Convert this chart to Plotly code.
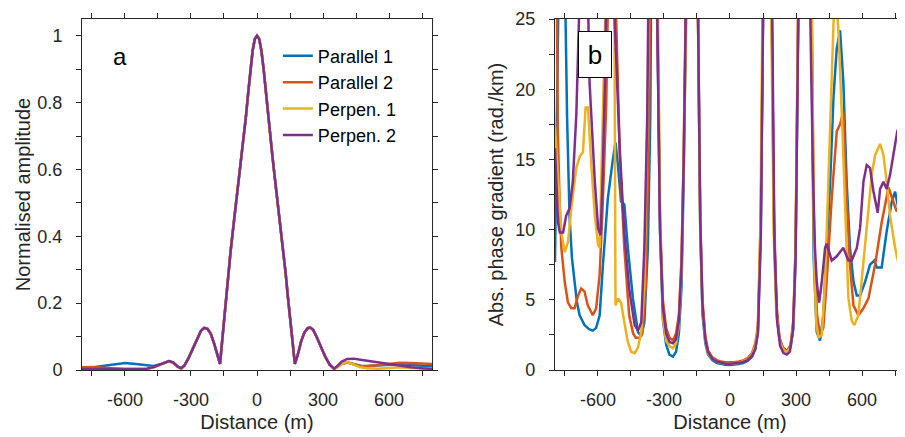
import plotly.graph_objects as go
from plotly.subplots import make_subplots

# ---- panel a: normalised amplitude ----
amp_dist = [-795, -750, -700, -650, -600, -550, -500, -470, -440, -420, -400, -380, -360, -345,
            -330, -310, -290, -270, -255, -240, -225, -210, -195, -180, -168,
            -160, -150, -140, -130, -120, -110, -100, -90, -80, -70, -60, -50, -40, -30, -20, -10,
            0, 10, 20, 30, 40, 50, 60, 70, 80, 90, 100, 110, 120, 130, 140, 150, 160,
            172, 185, 200, 215, 230, 242, 255, 270, 290, 310, 330, 350,
            365, 385, 410, 440, 470, 500, 550, 600, 650, 700, 750, 795]

amp_core = [0.013, 0.037, 0.067, 0.098, 0.117, 0.126, 0.123, 0.108, 0.08, 0.045, 0.018,
            0.075, 0.15, 0.22, 0.29, 0.355, 0.415, 0.47, 0.525, 0.58, 0.64, 0.70, 0.76, 0.83, 0.9, 0.955, 0.99,
            1.0, 0.99, 0.955, 0.9, 0.83, 0.76, 0.70, 0.64, 0.58, 0.525, 0.47, 0.415, 0.355, 0.29, 0.22, 0.155, 0.09,
            0.018, 0.045, 0.085, 0.112, 0.125, 0.127, 0.12, 0.1, 0.07, 0.04, 0.016, 0.004]

par1_left = [0.004, 0.008, 0.013, 0.018, 0.021, 0.018, 0.013, 0.012, 0.017, 0.022, 0.027, 0.022, 0.01, 0.005]
par2_left = [0.008, 0.009, 0.007, 0.004, 0.003, 0.003, 0.004, 0.008, 0.016, 0.022, 0.027, 0.022, 0.01, 0.005]
perp1_left = [0.002, 0.002, 0.002, 0.002, 0.002, 0.002, 0.003, 0.008, 0.016, 0.022, 0.026, 0.02, 0.008, 0.002]
perp2_left = [0.003, 0.003, 0.003, 0.003, 0.003, 0.003, 0.004, 0.009, 0.017, 0.023, 0.027, 0.022, 0.01, 0.005]

par1_right = [0.009, 0.018, 0.022, 0.018, 0.013, 0.012, 0.014, 0.017, 0.017, 0.015, 0.013, 0.011]
par2_right = [0.009, 0.018, 0.023, 0.018, 0.012, 0.011, 0.014, 0.019, 0.022, 0.021, 0.019, 0.018]
perp1_right = [0.008, 0.018, 0.024, 0.016, 0.008, 0.005, 0.004, 0.006, 0.008, 0.006, 0.004, 0.003]
perp2_right = [0.012, 0.025, 0.033, 0.034, 0.031, 0.028, 0.023, 0.018, 0.012, 0.008, 0.005, 0.003]

# ---- panel b: abs. phase gradient (rad./km) ----
par1_x = [-795, -788, -778, -762, -750, -740, -729, -718, -706, -695, -683, -661, -640, -623, -608, -592, -577,
          -555, -532, -520, -509, -495, -480, -464, -441, -418, -403, -389, -373, -362, -345, -330, -318, -305,
          -290, -275, -259, -245, -232, -220, -210, -200, -170, -145, -135, -125, -112, -100, -80, -60, -40, -20,
          0, 20, 40, 60, 80, 100, 115, 127, 140, 150, 165, 190, 200, 212, 225, 240, 258, 275, 288, 298, 310, 340,
          370, 380, 394, 409, 424, 439, 455, 470, 485, 500, 515, 530, 545, 561, 576, 591, 614, 636, 656, 667, 689,
          712, 735, 750, 765, 780, 795]
par1_y = [7.7, 16, 28, 40, 28, 18, 11, 8, 6.3, 4.8, 3.9, 3.2, 2.9, 2.8, 3.0, 3.9, 7.5,
          12.2, 15, 16.2, 14.6, 12, 11.8, 8.7, 5.1, 2.7, 2.4, 3.4, 8.7, 18, 60, 25, 10, 3.6,
          1.8, 1.1, 0.95, 1.3, 2.6, 6, 14, 25, 60, 25, 10, 4, 1.9, 1.1, 0.7, 0.5, 0.42, 0.38,
          0.36, 0.38, 0.42, 0.5, 0.65, 0.95, 1.5, 2.8, 10, 25, 60, 25, 10, 4, 2.2, 1.6, 1.35, 1.6, 3, 8, 25, 60,
          25, 8, 2.7, 2.1, 3.9, 8.7, 13.4, 19.4, 22.9, 24.2, 20.5, 13.4, 8.7, 6.3, 5.3, 5.3, 6.3, 7.5, 7.8, 7.3, 7.3,
          9.9, 12, 12.7, 11.5, 10.8, 10.8]

par2_x = [-795, -786, -782, -774, -766, -751, -736, -721, -706, -690, -676, -661, -646, -623, -608, -592, -577,
          -562, -550, -535, -517, -500, -480, -458, -440, -428, -410, -398, -383, -367, -350, -330, -318, -305,
          -290, -275, -259, -245, -232, -220, -210, -200, -170, -145, -135, -125, -112, -100, -80, -60, -40, -20,
          0, 20, 40, 60, 80, 100, 115, 127, 140, 150, 165, 190, 200, 212, 225, 240, 258, 275, 288, 298, 310, 340,
          372, 382, 395, 409, 424, 439, 462, 485, 500, 515, 530, 545, 561, 583, 606, 629, 659, 689, 720, 742, 757,
          772, 787, 795]
par2_y = [45, 25, 17, 12, 8.7, 6.3, 4.8, 4.4, 4.4, 5.3, 5.8, 5.6, 4.6, 3.9, 4.4, 6.8, 12.2,
          19, 30, 45, 25, 15, 8.7, 3.9, 2.6, 2.3, 2.3, 2.6, 5.9, 18, 60, 25, 11, 5,
          3, 2.3, 2.1, 2.6, 4, 8, 16, 25, 60, 25, 11, 5, 2.4, 1.4, 0.9, 0.7, 0.6, 0.56,
          0.55, 0.56, 0.6, 0.68, 0.85, 1.2, 1.9, 3.2, 11, 25, 60, 25, 11, 4.5, 2.3, 1.6, 1.3, 1.8, 3.6, 9, 25, 60,
          25, 9, 4, 2.5, 3, 6.3, 12.2, 17, 17.5, 18.4, 12.2, 7.5, 4.6, 3.9, 4.4, 5.1, 7.5, 10.5, 13, 12, 11.3,
          11.6, 10.8, 10.6]

perp1_x = [-795, -781, -766, -751, -736, -721, -698, -683, -668, -656, -645, -630, -614, -599, -592, -585, -577,
           -570, -555, -535, -526, -520, -509, -495, -480, -464, -449, -433, -418, -403, -389, -373, -350, -328,
           -316, -303, -290, -275, -259, -245, -232, -220, -210, -198, -170, -145, -135, -125, -112, -100, -80,
           -60, -40, -20, 0, 20, 40, 60, 80, 100, 115, 127, 138, 147, 165, 188, 198, 210, 225, 240, 258, 275, 288,
           298, 308, 340, 372, 382, 392, 402, 417, 432, 447, 462, 473, 485, 493, 508, 523, 538, 553, 565, 583, 598,
           614, 629, 644, 659, 682, 697, 712, 727, 750, 773, 795]
perp1_y = [17.4, 13.4, 9.8, 8.4, 9.1, 11.5, 14.4, 15.2, 15.5, 18.7, 18.7, 14.6, 11, 8.9, 8.7, 13.4, 20.5,
           26, 45, 45, 30, 4.6, 5.1, 4.8, 3.4, 2, 1.3, 1.2, 1.6, 2.7, 6, 20, 60, 25,
           9, 3.5, 2.1, 1.7, 1.55, 1.9, 3.2, 7, 15, 25, 60, 25, 10, 4.5, 2.1, 1.2, 0.8,
           0.6, 0.5, 0.47, 0.46, 0.47, 0.5, 0.6, 0.75, 1.1, 1.7, 3, 10, 25, 60, 25, 10, 4.2, 2.1, 1.5, 1.25, 1.6, 3.3,
           8.5, 25, 60, 25, 8, 3.3, 2.3, 2.5, 6.3, 13.4, 20.5, 26, 26, 24, 18.2, 11, 5.1, 3.5, 3.2, 3.9, 6.3,
           8.7, 11.5, 13.9, 15.3, 16.1, 15.3, 13.4, 11, 8.7, 7, 6.3]

perp2_x = [-795, -781, -773, -758, -744, -729, -714, -698, -686, -670, -655, -645, -638, -614, -599, -588, -579,
           -568, -561, -545, -530, -524, -501, -480, -458, -433, -418, -403, -389, -376, -350, -330, -318, -305,
           -290, -275, -259, -245, -232, -220, -210, -198, -170, -145, -135, -125, -112, -100, -80, -60, -40, -20,
           0, 20, 40, 60, 80, 100, 115, 127, 140, 150, 165, 192, 202, 214, 228, 243, 258, 272, 286, 298, 310, 340,
           365, 377, 386, 394, 405, 417, 432, 439, 462, 485, 515, 538, 553, 576, 591, 606, 621, 636, 652, 671, 682,
           697, 712, 727, 742, 761, 776, 795]
perp2_y = [15.8, 10.5, 9.8, 9.8, 11, 11.5, 13.4, 18.2, 25, 45, 35, 25, 20.5, 13.4, 10.1, 9.6, 13.4,
           20.5, 25, 45, 32, 25, 15.8, 9.8, 5.8, 3.2, 2.8, 3.4, 8.7, 18, 60, 25, 10, 4.5,
           2.6, 2.0, 1.9, 2.2, 3.5, 7.5, 15, 25, 60, 25, 10.5, 4.6, 2.2, 1.3, 0.8, 0.6, 0.5, 0.45,
           0.44, 0.45, 0.5, 0.58, 0.7, 1.0, 1.5, 2.6, 9.5, 25, 60, 25, 9, 3.5, 1.7, 1.2, 1.1, 1.3, 2.8, 8, 25, 60,
           25, 14, 8.7, 6.3, 4.8, 6.3, 8.7, 9, 7.8, 8.1, 8.7, 7.8, 7.8, 8.7, 10.1, 13.4, 14.6, 14.4, 12.7, 11.2, 12.9,
           13.4, 12.9, 13.9, 15.3, 17.1, 15.8, 15.3]

names = ['Parallel 1', 'Parallel 2', 'Perpen. 1', 'Perpen. 2']
colors = ['#0072BD', '#D95319', '#EDB120', '#7E2F8E']

dist_ticks = [-750, -600, -450, -300, -150, 0, 150, 300, 450, 600, 750]
dist_labels = ['', '-600', '', '-300', '', '0', '', '300', '', '600', '']
amp_ticks = [0, 0.1, 0.2, 0.3, 0.4, 0.5, 0.6, 0.7, 0.8, 0.9, 1.0]
amp_labels = ['0', '', '0.2', '', '0.4', '', '0.6', '', '0.8', '', '1']
grad_ticks = [0, 2.5, 5, 7.5, 10, 12.5, 15, 17.5, 20, 22.5, 25]
grad_labels = ['0', '', '5', '', '10', '', '15', '', '20', '', '25']

amp_series = [par1_left + amp_core + par1_right, par2_left + amp_core + par2_right,
              perp1_left + amp_core + perp1_right, perp2_left + amp_core + perp2_right]
grad_series = [(par1_x, par1_y), (par2_x, par2_y), (perp1_x, perp1_y), (perp2_x, perp2_y)]

fig = make_subplots(rows=1, cols=2)

for i in range(4):
    fig.add_trace(go.Scatter(x=amp_dist, y=amp_series[i], mode='lines', name=names[i],
                             line=dict(color=colors[i], width=2.5)), row=1, col=1)
for i in range(4):
    gx, gy = grad_series[i]
    fig.add_trace(go.Scatter(x=gx, y=gy, mode='lines', showlegend=False,
                             line=dict(color=colors[i], width=2.5)), row=1, col=2)

ink = '#262626'
axis_style = dict(showgrid=False, zeroline=False, showline=True, linecolor=ink, linewidth=1,
                  ticks='outside', ticklen=5, tickcolor=ink, tickfont=dict(size=18, color=ink),
                  tickmode='array')

fig.update_xaxes(axis_style, range=[-795, 795], tickvals=dist_ticks, ticktext=dist_labels,
                 mirror='allticks', ticklabelstandoff=8,
                 title=dict(text='Distance (m)', font=dict(size=20, color=ink), standoff=6))
fig.update_xaxes(domain=[0, 0.4253], row=1, col=1)
fig.update_xaxes(domain=[0.5747, 1.0], row=1, col=2)

fig.update_yaxes(axis_style, row=1, col=1, range=[0, 1.05], tickvals=amp_ticks, ticktext=amp_labels,
                 mirror='allticks', ticklabelstandoff=10,
                 title=dict(text='Normalised amplitude', font=dict(size=20, color=ink), standoff=1))
fig.update_yaxes(axis_style, row=1, col=2, range=[0, 25], tickvals=grad_ticks, ticktext=grad_labels,
                 mirror=False, ticklabelstandoff=10,
                 title=dict(text='Abs. phase gradient (rad./km)', font=dict(size=20, color=ink), standoff=6))

fig.add_annotation(text='a', xref='x domain', yref='y domain', x=0.109, y=0.892,
                   xanchor='center', yanchor='middle',
                   showarrow=False, font=dict(size=24, color='black'))
fig.add_annotation(text='b', xref='x2 domain', yref='y2 domain', x=0.114, y=0.899,
                   xanchor='center', yanchor='middle',
                   showarrow=False, font=dict(size=26, color='black'),
                   bgcolor='white', bordercolor='black', borderwidth=1, width=30, height=43)

# page body has an 8px margin, so the figure is sized 8px smaller
fig.update_layout(
    width=897, height=429,
    margin=dict(l=74, r=0, t=11, b=67),
    paper_bgcolor='white', plot_bgcolor='white',
    font=dict(family='Liberation Sans, Arial, sans-serif', color=ink),
    legend=dict(x=0.238, y=0.947, xanchor='left', yanchor='top', bgcolor='rgba(0,0,0,0)',
                font=dict(size=18, color='black'), tracegroupgap=0),
)

fig.write_html("out.html")
